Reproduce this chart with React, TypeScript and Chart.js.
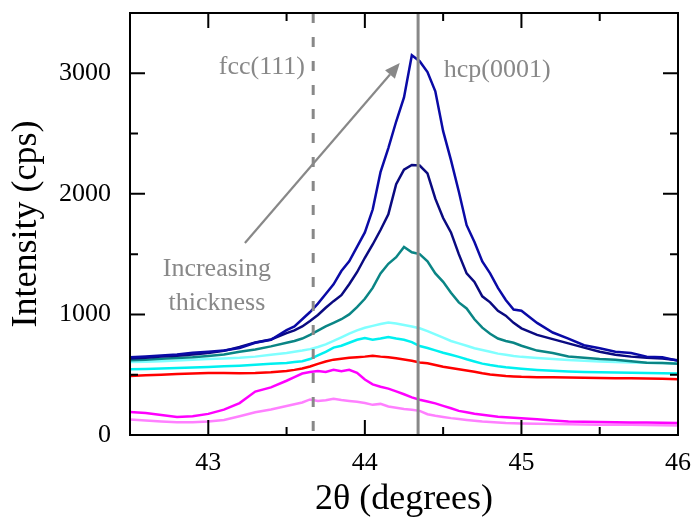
import React, { useEffect, useRef } from 'react';
import { Chart, registerables } from 'chart.js';

Chart.register(...registerables);

const SERIF = "'Liberation Serif', 'Times New Roman', serif";

const X = [42.5, 42.6, 42.7, 42.8, 42.9, 43.0, 43.1, 43.2, 43.3, 43.4, 43.5,
  43.55, 43.6, 43.65, 43.7, 43.75, 43.8, 43.85, 43.9, 43.95, 44.0, 44.05, 44.1, 44.15, 44.2, 44.25,
  44.3, 44.35, 44.4, 44.45, 44.5, 44.55, 44.6, 44.65, 44.7, 44.75, 44.8, 44.85, 44.9, 44.95, 45.0,
  45.1, 45.2, 45.3, 45.4, 45.5, 45.6, 45.7, 45.8, 45.9, 46.0];

const S1 = [645, 652, 660, 668, 682, 690, 700, 722, 765, 790, 870,
  900, 960, 1020, 1090, 1170, 1250, 1360, 1440, 1560, 1680, 1870, 2180, 2380, 2600, 2800,
  3150, 3100, 3010, 2850, 2520, 2280, 2020, 1740, 1600, 1440, 1340, 1220, 1120, 1040, 1030,
  930, 850, 800, 745, 720, 690, 680, 650, 645, 615];

const S2 = [635, 640, 650, 658, 668, 680, 698, 730, 768, 792, 845,
  868, 900, 945, 995, 1055, 1110, 1160, 1250, 1350, 1470, 1580, 1700, 1830, 2080, 2200,
  2240, 2235, 2170, 1960, 1800, 1680, 1500, 1340, 1270, 1150, 1100, 1030, 990, 930, 885,
  830, 795, 760, 725, 690, 665, 650, 640, 635, 620];

const S3 = [620, 625, 632, 638, 645, 655, 668, 690, 710, 735, 765,
  780, 800, 830, 865, 900, 930, 960, 1000, 1060, 1130, 1220, 1340, 1420, 1475, 1560,
  1515, 1500, 1440, 1340, 1270, 1180, 1100, 1050, 960, 890, 840, 800, 780, 765, 740,
  700, 680, 652, 640, 630, 625, 612, 600, 598, 590];

const S4 = [605, 608, 612, 618, 625, 630, 635, 640, 650, 665, 680,
  690, 700, 712, 730, 752, 780, 810, 840, 868, 890, 905, 920, 932, 925, 912,
  900, 885, 862, 835, 808, 780, 760, 740, 720, 705, 690, 675, 665, 655, 648,
  638, 630, 622, 615, 610, 605, 602, 600, 598, 595];

const S5 = [545, 548, 552, 555, 560, 565, 570, 575, 582, 590, 598,
  605, 612, 630, 660, 690, 725, 740, 765, 790, 805, 790, 800, 812, 800, 790,
  770, 738, 722, 702, 682, 665, 648, 628, 610, 592, 580, 570, 562, 556, 550,
  540, 532, 526, 522, 520, 518, 516, 515, 513, 510];

const S6 = [490, 495, 500, 505, 510, 515, 515, 513, 515, 520, 530,
  540, 552, 568, 590, 610, 625, 632, 640, 645, 650, 658, 650, 645, 636, 626,
  615, 602, 595, 580, 566, 555, 545, 535, 525, 512, 502, 496, 490, 486, 483,
  480, 478, 476, 474, 472, 470, 470, 468, 466, 463];

const S7 = [190, 182, 165, 150, 155, 175, 210, 265, 360, 395, 450,
  480, 510, 522, 530, 522, 540, 528, 540, 515, 460, 420, 400, 385, 362, 338,
  312, 292, 278, 262, 242, 222, 200, 188, 176, 168, 160, 152, 148, 143, 138,
  130, 120, 112, 110, 108, 106, 104, 103, 102, 100];

const S8 = [128, 120, 112, 105, 106, 112, 125, 155, 188, 212, 240,
  255, 270, 295, 282, 288, 300, 290, 282, 275, 265, 250, 258, 236, 226, 216,
  210, 200, 172, 160, 150, 140, 132, 125, 118, 112, 108, 104, 100, 98, 96,
  94, 92, 90, 88, 86, 85, 84, 82, 80, 78];

const SERIES = [S1, S2, S3, S4, S5, S6, S7, S8];
const COLORS = ['#0a0aa6', '#0a0a80', '#0a8585', '#80ffff', '#00f0f0', '#ff0000', '#ff00ff', '#ff80ff'];

const X_TICKS = [43, 44, 45, 46];
const X_MINOR = [43.5, 44.5, 45.5];
const Y_TICKS = [0, 1000, 2000, 3000];
const Y_MINOR = [500, 1500, 2500];

const FCC_POS = 43.67;
const HCP_POS = 44.34;
const ARROW_FROM = [43.234, 1592];
const ARROW_TO = [44.223, 3085];
const FCC_LABEL = { text: 'fcc(111)', x: 43.617, y: 2993 };
const HCP_LABEL = { text: 'hcp(0001)', x: 44.504, y: 2968 };
const NOTE_LINES = [
  { text: 'Increasing', x: 43.055, y: 1318 },
  { text: 'thickness', x: 43.055, y: 1036 },
];

const GREY = '#888888';

const overlay = {
  id: 'overlay',
  afterDatasetsDraw(chart: any) {
    const { ctx, chartArea: a, scales } = chart;
    const xs = scales.x;
    const ys = scales.y;
    ctx.save();

    // reference lines
    ctx.strokeStyle = GREY;
    ctx.lineWidth = 3;
    ctx.setLineDash([10, 14]);
    const fx = xs.getPixelForValue(FCC_POS);
    ctx.beginPath();
    ctx.moveTo(fx, a.top);
    ctx.lineTo(fx, a.bottom);
    ctx.stroke();
    ctx.setLineDash([]);
    const hx = xs.getPixelForValue(HCP_POS);
    ctx.beginPath();
    ctx.moveTo(hx, a.top);
    ctx.lineTo(hx, a.bottom);
    ctx.stroke();

    // arrow
    const x0 = xs.getPixelForValue(ARROW_FROM[0]);
    const y0 = ys.getPixelForValue(ARROW_FROM[1]);
    const x1 = xs.getPixelForValue(ARROW_TO[0]);
    const y1 = ys.getPixelForValue(ARROW_TO[1]);
    const ang = Math.atan2(y1 - y0, x1 - x0);
    const hl = 15, hw = 6.5;
    const bx = x1 - hl * Math.cos(ang);
    const by = y1 - hl * Math.sin(ang);
    ctx.lineWidth = 2.2;
    ctx.strokeStyle = GREY;
    ctx.beginPath();
    ctx.moveTo(x0, y0);
    ctx.lineTo(bx, by);
    ctx.stroke();
    ctx.fillStyle = GREY;
    ctx.beginPath();
    ctx.moveTo(x1, y1);
    ctx.lineTo(bx + hw * Math.sin(ang), by - hw * Math.cos(ang));
    ctx.lineTo(bx - hw * Math.sin(ang), by + hw * Math.cos(ang));
    ctx.closePath();
    ctx.fill();

    // labels
    ctx.font = `26px ${SERIF}`;
    ctx.fillStyle = GREY;
    ctx.textBaseline = 'alphabetic';
    ctx.textAlign = 'right';
    ctx.fillText(FCC_LABEL.text, xs.getPixelForValue(FCC_LABEL.x), ys.getPixelForValue(FCC_LABEL.y));
    ctx.textAlign = 'left';
    ctx.fillText(HCP_LABEL.text, xs.getPixelForValue(HCP_LABEL.x), ys.getPixelForValue(HCP_LABEL.y));
    ctx.textAlign = 'center';
    NOTE_LINES.forEach((l) => {
      ctx.fillText(l.text, xs.getPixelForValue(l.x), ys.getPixelForValue(l.y));
    });

    // frame
    ctx.strokeStyle = '#000';
    ctx.lineWidth = 2;
    ctx.strokeRect(a.left, a.top, a.right - a.left, a.bottom - a.top);

    const major = 15, minor = 8;
    ctx.beginPath();
    const xt = (v: number, len: number) => {
      const p = xs.getPixelForValue(v);
      ctx.moveTo(p, a.bottom);
      ctx.lineTo(p, a.bottom - len);
      ctx.moveTo(p, a.top);
      ctx.lineTo(p, a.top + len);
    };
    const yt = (v: number, len: number) => {
      const p = ys.getPixelForValue(v);
      ctx.moveTo(a.left, p);
      ctx.lineTo(a.left + len, p);
      ctx.moveTo(a.right, p);
      ctx.lineTo(a.right - len, p);
    };
    X_TICKS.forEach((v) => xt(v, major));
    X_MINOR.forEach((v) => xt(v, minor));
    Y_TICKS.forEach((v) => yt(v, major));
    Y_MINOR.forEach((v) => yt(v, minor));
    ctx.stroke();

    ctx.restore();
  },
};

export default function App() {
  const ref = useRef<HTMLCanvasElement | null>(null);

  useEffect(() => {
    if (!ref.current) return;
    const chart = new Chart(ref.current, {
      type: 'line',
      data: {
        datasets: SERIES.map((s, i) => ({
          label: `series ${i + 1}`,
          data: X.map((x, j) => ({ x, y: s[j] })),
          borderColor: COLORS[i],
          backgroundColor: COLORS[i],
          borderWidth: 2.5,
          pointRadius: 0,
          tension: 0,
          fill: false,
        })),
      },
      options: {
        animation: false,
        responsive: false,
        maintainAspectRatio: false,
        layout: { padding: { left: 0, right: 14, top: 13, bottom: 0 } },
        plugins: { legend: { display: false }, tooltip: { enabled: false } },
        scales: {
          x: {
            type: 'linear',
            min: 42.5,
            max: 46,
            afterBuildTicks: (s: any) => { s.ticks = X_TICKS.map((v) => ({ value: v })); },
            afterFit: (s: any) => { s.height = 83; },
            grid: { display: false, drawTicks: true, tickLength: 15 },
            border: { display: false },
            ticks: {
              font: { family: SERIF, size: 26, lineHeight: 1 },
              color: '#000',
              padding: 0,
              maxRotation: 0,
              autoSkip: false,
              callback: (v: any) => String(v),
            },
            title: {
              display: true,
              text: '2θ (degrees)',
              color: '#000',
              font: { family: SERIF, size: 36, lineHeight: 1 },
              padding: { top: 0, bottom: 0 },
            },
          },
          y: {
            type: 'linear',
            min: 0,
            max: 3500,
            afterBuildTicks: (s: any) => { s.ticks = Y_TICKS.map((v) => ({ value: v })); },
            afterFit: (s: any) => { s.width = 130; },
            grid: { display: false, drawTicks: true, tickLength: 19 },
            border: { display: false },
            ticks: {
              font: { family: SERIF, size: 26, lineHeight: 1 },
              color: '#000',
              padding: 0,
              callback: (v: any) => String(v),
            },
            title: {
              display: true,
              text: 'Intensity (cps)',
              color: '#000',
              font: { family: SERIF, size: 36, lineHeight: 1 },
              padding: { top: 9, bottom: 0 },
            },
          },
        },
      },
      plugins: [overlay],
    } as any);
    return () => chart.destroy();
  }, []);

  return (
    <div style={{ position: 'absolute', left: 0, top: 0, width: 692, height: 518, background: '#fff' }}>
      <canvas ref={ref} width={692} height={518} />
    </div>
  );
}
